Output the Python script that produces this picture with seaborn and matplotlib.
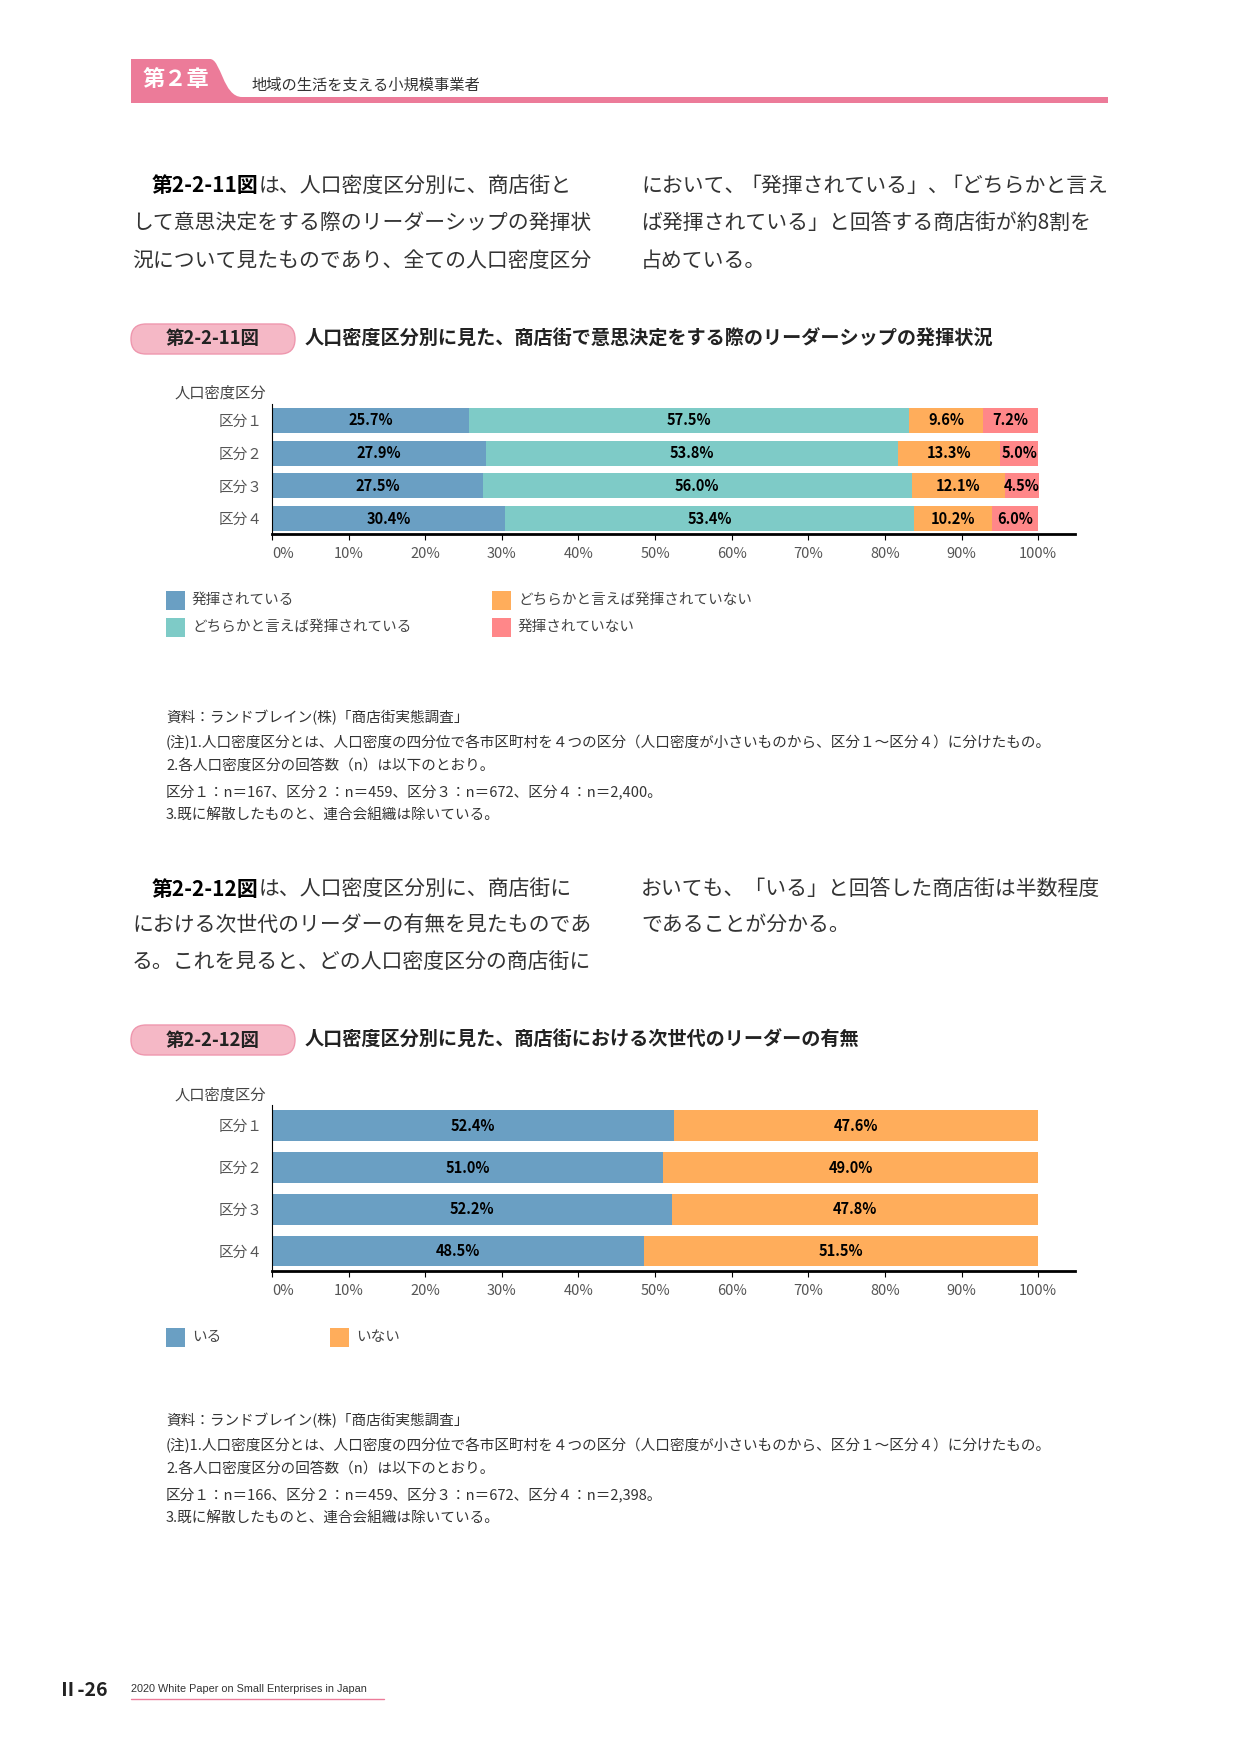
import numpy as np
import matplotlib.pyplot as plt
import seaborn as sns
from matplotlib.patches import Rectangle, FancyBboxPatch, PathPatch
from matplotlib.path import Path

sns.set_style('white')
plt.rcParams['font.family'] = ['Noto Sans CJK JP', 'DejaVu Sans']

W, H = 1241, 1754

# ---- data: 第2-2-11図 ----
cats = ['区分１', '区分２', '区分３', '区分４']
lead_names = ['発揮されている', 'どちらかと言えば発揮されている',
              'どちらかと言えば発揮されていない', '発揮されていない']
lead_yes = [25.7, 27.9, 27.5, 30.4]
lead_rather_yes = [57.5, 53.8, 56.0, 53.4]
lead_rather_no = [9.6, 13.3, 12.1, 10.2]
lead_no = [7.2, 5.0, 4.5, 6.0]

# ---- data: 第2-2-12図 ----
next_names = ['いる', 'いない']
next_yes = [52.4, 51.0, 52.2, 48.5]
next_no = [47.6, 49.0, 47.8, 51.5]

xticks = list(range(0, 101, 10))
xticklabels = [f'{t}%' for t in xticks]

BLUE, TEAL, ORANGE, PINK = '#6A9FC3', '#7ECBC7', '#FFAD5B', '#FF8789'
HEAD = '#EC7B99'
TXT = '#333333'

fig = plt.figure(figsize=(W / 100, H / 100), dpi=100)
bg = fig.add_axes([0, 0, 1, 1])
bg.set_xlim(0, W)
bg.set_ylim(H, 0)
bg.axis('off')
renderer = fig.canvas.get_renderer()


def run_line(x, y, parts, size=15):
    # draw a line made of (text, bold, kern) pieces one after another
    for txt, bold, kern in parts:
        t = bg.text(x, y, txt, fontsize=size, va='center', ha='left',
                    fontweight='bold' if bold else 'normal',
                    color='black' if bold else TXT)
        x = t.get_window_extent(renderer=renderer).x1 + kern


def fig_label(y, num, title):
    pill = FancyBboxPatch((131, y - 15), 164, 30,
                          boxstyle='round,pad=0,rounding_size=15',
                          facecolor='#F5B8C6', edgecolor='#EE97AE', lw=1)
    bg.add_patch(pill)
    bg.text(213, y, num, fontsize=13.3, fontweight='bold', ha='center',
            va='center', color='#222222')
    bg.text(305, y, title, fontsize=13.8, fontweight='bold', ha='left',
            va='center', color='#222222')


def stacked(ax, series, colors, bw):
    arr = np.array(series)
    cum = np.cumsum(arr, axis=0)
    for i in reversed(range(len(series))):
        sns.barplot(x=cum[i], y=cats, orient='h', color=colors[i], width=bw,
                    errorbar=None, saturation=1, linewidth=0, ax=ax)
    for i in range(len(series)):
        left = cum[i] - arr[i]
        for j, v in enumerate(arr[i]):
            ax.text(left[j] + v / 2, j, f'{v:.1f}%', ha='center', va='center',
                    fontsize=10.5, fontweight='bold', color='black')
    ax.set_xlim(0, 104.8)
    ax.set_ylim(3.47, -0.5)
    ax.set_xticks(xticks)
    ax.set_xticklabels(xticklabels)
    ax.get_xticklabels()[0].set_ha('left')
    ax.set_xlabel('')
    ax.set_ylabel('')
    for s in ['top', 'right']:
        ax.spines[s].set_visible(False)
    ax.spines['bottom'].set_linewidth(2)
    ax.spines['bottom'].set_color('black')
    ax.spines['left'].set_linewidth(0.8)
    ax.spines['left'].set_color('black')
    ax.tick_params(axis='x', bottom=True, direction='out', length=4.5, width=0.8,
                   color='black', labelsize=10.5, labelcolor='#555555', pad=5)
    ax.tick_params(axis='y', left=False, length=0, labelsize=10.5,
                   labelcolor='#555555', pad=7)


def legend(items, y_x):
    for (name, col), (x, y) in zip(items, y_x):
        bg.add_patch(Rectangle((x, y - 9.5), 19, 19, facecolor=col, edgecolor='none'))
        bg.text(x + 26, y, name, fontsize=10.5, va='center', ha='left', color='#444444')


def notes(y0, lines):
    for k, ln in enumerate(lines):
        bg.text(166, y0 + k * 24.5, ln, fontsize=10.5, va='center', ha='left', color=TXT)


# ---- header ----
tab = Path([(131, 103), (131, 59), (210, 59), (221, 59), (223, 97), (242, 97),
            (242, 103), (131, 103)],
           [Path.MOVETO, Path.LINETO, Path.LINETO, Path.CURVE4, Path.CURVE4,
            Path.CURVE4, Path.LINETO, Path.CLOSEPOLY])
bg.add_patch(PathPatch(tab, facecolor=HEAD, edgecolor='none'))
bg.add_patch(Rectangle((131, 97), 977, 6, facecolor=HEAD, edgecolor='none'))
bg.text(176, 80, '第２章', fontsize=16, fontweight='bold', color='white',
        ha='center', va='center')
bg.text(251, 85, '地域の生活を支える小規模事業者', fontsize=11, color=TXT,
        ha='left', va='center')

# ---- paragraph 1 ----
run_line(152, 186, [('第2-2-11図', True, 0), ('は、人口密度区分別に、商店街と', False, 0)])
run_line(132, 223, [('して意思決定をする際のリーダーシップの発揮状', False, 0)])
run_line(132, 261, [('況について見たものであり、全ての人口密度区分', False, 0)])
run_line(641, 186, [('において、', False, -5), ('「発揮されている」、', False, -8),
                    ('「どちらかと言え', False, 0)])
run_line(641, 223, [('ば発揮されている」と回答する商店街が約8割を', False, 0)])
run_line(641, 261, [('占めている。', False, 0)])

# ---- figure 2-2-11 ----
fig_label(339, '第2-2-11図', '人口密度区分別に見た、商店街で意思決定をする際のリーダーシップの発揮状況')
bg.text(175, 393, '人口密度区分', fontsize=11, color='#444444', va='center', ha='left')
ax1 = fig.add_axes([272 / W, 1 - 534 / H, (1075 - 272) / W, (534 - 404) / H])
stacked(ax1, [lead_yes, lead_rather_yes, lead_rather_no, lead_no],
        [BLUE, TEAL, ORANGE, PINK], 0.77)
legend(zip(lead_names, [BLUE, TEAL, ORANGE, PINK]),
       [(166, 600), (166, 627), (492, 600), (492, 627)])
notes(718, ['資料：ランドブレイン(株)「商店街実態調査」',
            '(注)1.人口密度区分とは、人口密度の四分位で各市区町村を４つの区分（人口密度が小さいものから、区分１～区分４）に分けたもの。',
            '2.各人口密度区分の回答数（n）は以下のとおり。',
            '区分１：n＝167、区分２：n＝459、区分３：n＝672、区分４：n＝2,400。',
            '3.既に解散したものと、連合会組織は除いている。'])

# ---- paragraph 2 ----
run_line(152, 889, [('第2-2-12図', True, 0), ('は、人口密度区分別に、商店街に', False, 0)])
run_line(132, 925, [('における次世代のリーダーの有無を見たものであ', False, 0)])
run_line(132, 962, [('る。これを見ると、どの人口密度区分の商店街に', False, 0)])
run_line(641, 889, [('おいても、「いる」と回答した商店街は半数程度', False, 0)])
run_line(641, 925, [('であることが分かる。', False, 0)])

# ---- figure 2-2-12 ----
fig_label(1040, '第2-2-12図', '人口密度区分別に見た、商店街における次世代のリーダーの有無')
bg.text(175, 1095, '人口密度区分', fontsize=11, color='#444444', va='center', ha='left')
ax2 = fig.add_axes([272 / W, 1 - 1271 / H, (1075 - 272) / W, (1271 - 1105) / H])
stacked(ax2, [next_yes, next_no], [BLUE, ORANGE], 0.74)
ax2.set_ylim(3.48, -0.5)
legend(zip(next_names, [BLUE, ORANGE]), [(166, 1337), (330, 1337)])
notes(1421, ['資料：ランドブレイン(株)「商店街実態調査」',
             '(注)1.人口密度区分とは、人口密度の四分位で各市区町村を４つの区分（人口密度が小さいものから、区分１～区分４）に分けたもの。',
             '2.各人口密度区分の回答数（n）は以下のとおり。',
             '区分１：n＝166、区分２：n＝459、区分３：n＝672、区分４：n＝2,398。',
             '3.既に解散したものと、連合会組織は除いている。'])

# ---- footer ----
bg.text(58, 1690, 'Ⅱ-26', fontsize=14, fontweight='bold', color='#222222',
        ha='left', va='center')
bg.text(131, 1689, '2020 White Paper on Small Enterprises in Japan', fontsize=7.8,
        color=TXT, ha='left', va='center', family='Liberation Sans')
bg.plot([131, 384], [1699, 1699], color=HEAD, lw=1)

fig.savefig('out.png', dpi=100)
